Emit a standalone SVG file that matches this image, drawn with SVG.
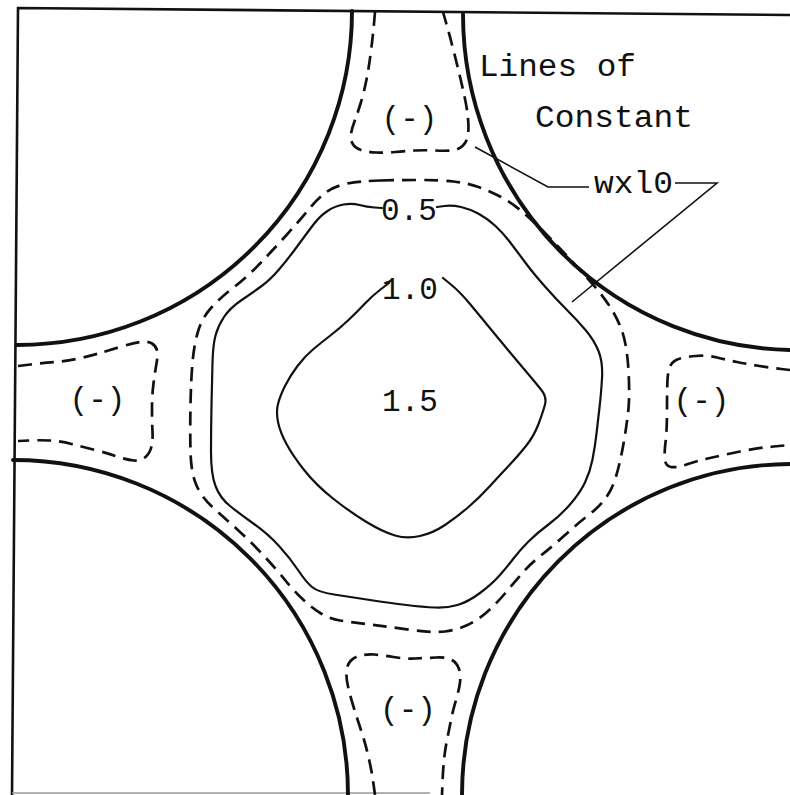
<svg xmlns="http://www.w3.org/2000/svg" width="790" height="795" viewBox="0 0 790 795">
<style>
.thick{fill:none;stroke:#111;stroke-width:3.9;stroke-linecap:round}
.frame{fill:none;stroke:#111;stroke-width:2.6}
.solid{fill:none;stroke:#111;stroke-width:2.2;stroke-linejoin:round;stroke-linecap:round}
.dash{fill:none;stroke:#111;stroke-width:2.7;stroke-dasharray:14 8;stroke-linejoin:round}
.lead{fill:none;stroke:#111;stroke-width:1.6}
text{font-family:"Liberation Mono","Courier New",monospace;font-size:31px;fill:#111}
.m{text-anchor:middle}
</style>
<rect width="790" height="795" fill="#fff"/>
<g id="frame">
<path class="frame" d="M790,15 L18,8 L12,795"/>
<path d="M12,793 L430,793" stroke="#999" stroke-width="1.5" fill="none"/>
</g>
<g id="cylinders">
<path class="thick" d="M352,11 A335,334 0 0 1 17,345"/>
<path class="thick" d="M463,14 A333,336 0 0 0 796,350"/>
<path class="thick" d="M13,460 A335,335 0 0 1 348,795"/>
<path class="thick" d="M790,464 A330,331 0 0 0 462,795"/>
</g>
<g id="contours">
<path id="outer-dashed" class="dash" d="M380,180.5 Q400,180 420,180 Q440,180 453.5,181.5 Q467,183 478.5,187 Q490,191 501,197 Q512,203 522,211.5 Q532,220 543.5,231.5 Q555,243 566.5,255.5 Q578,268 589,280 Q600,292 608.5,304.5 Q617,317 622,331 Q627,345 628.5,371 Q630,397 628,413.5 Q626,430 623,446.5 Q620,463 616,476.5 Q612,490 605,499 Q598,508 587.5,516 Q577,524 565,535 Q553,546 541.5,555 Q530,564 521.5,574 Q513,584 504.5,594 Q496,604 487,612 Q478,620 467.5,625 Q457,630 445,631.5 Q433,633 411.5,630 Q390,627 370,624.5 Q350,622 340,620.5 Q330,619 321,613.5 Q312,608 302.5,599 Q293,590 285,580 Q277,570 265,557 Q253,544 240,532 Q227,520 214.5,509 Q202,498 196.5,485.5 Q191,473 190.5,451.5 Q190,430 190.5,405 Q191,380 192.5,362.5 Q194,345 198,331.5 Q202,318 211,308 Q220,298 233.5,287.5 Q247,277 260,263.5 Q273,250 286.5,235 Q300,220 309,209 Q318,198 326.5,192 Q335,186 347.5,183.5 Q360,181 380,180.5 Z"/>
<path id="c05" class="solid" d="M437,207 L444.5,206 Q452,205 461,207 Q470,209 479,214 Q488,219 495.5,226 Q503,233 509.5,241.5 Q516,250 524.5,261.5 Q533,273 544.5,286 Q556,299 566.5,309.5 Q577,320 585.5,330 Q594,340 598.5,351 Q603,362 602,378.5 Q601,395 599.5,407.5 Q598,420 596.5,433.5 Q595,447 592.5,459.5 Q590,472 585,482.5 Q580,493 570,504.5 Q560,516 548.5,524.5 Q537,533 528.5,541.5 Q520,550 513.5,558.5 Q507,567 499.5,575.5 Q492,584 480,593 Q468,602 457.5,605 Q447,608 435,607.5 Q423,607 406.5,605 Q390,603 370,600 Q350,597 334,594.5 Q318,592 312,587 Q306,582 298,570 Q290,558 279,546 Q268,534 254,524 Q240,514 230,506 Q220,498 215.5,486 Q211,474 211,452 Q211,430 211.5,405 Q212,380 212.5,362.5 Q213,345 215.5,335.5 Q218,326 224,317 Q230,308 241,300.5 Q252,293 261,286.5 Q270,280 279,269.5 Q288,259 297.5,246 Q307,233 313.5,224.5 Q320,216 327.5,211 Q335,206 343.5,204.5 Q352,203 359.5,205 Q367,207 374.5,207.5 L382,208"/>
<path id="c10" class="solid" d="M389,283 L380.5,289.5 Q372,296 364.5,304 Q357,312 348.5,320 Q340,328 331,335 Q322,342 313.5,349 Q305,356 297.5,366 Q290,376 285,386 Q280,396 278,404 Q276,412 278,422 Q280,432 286.5,444 Q293,456 304.5,470.5 Q316,485 333,498.5 Q350,512 366.5,522 Q383,532 395,535.5 Q407,539 420,536 Q433,533 445,525 Q457,517 468.5,507 Q480,497 490,486 Q500,475 509,465.5 Q518,456 526,446 Q534,436 538.5,424 Q543,412 545,404.5 Q547,397 541,389.5 Q535,382 526.5,372 Q518,362 508,350 Q498,338 489,327 Q480,316 470,304 Q460,292 451.5,285 L443,278"/>
<path id="neg-top" class="dash" d="M375,12 L374,23.5 Q373,35 371,51 Q369,67 366.5,79.5 Q364,92 361,102 Q358,112 355,120 Q352,128 351,133.5 Q350,139 352.5,143.5 Q355,148 361,150 Q367,152 376,152.5 Q385,153 395,152 Q405,151 415,150.5 Q425,150 435,150.5 Q445,151 451.5,150.5 Q458,150 462.5,146 Q467,142 468,135 Q469,128 468,118 Q467,108 464.5,96.5 Q462,85 459,72.5 Q456,60 452.5,46.5 Q449,33 446,22.5 L443,12"/>
<path id="neg-left" class="dash" d="M18,366 L30.5,364.5 Q43,363 55,362 Q67,361 78.5,358.5 Q90,356 100,353 Q110,350 121.5,346.5 Q133,343 140.5,342 Q148,341 152,343.5 Q156,346 157,350.5 Q158,355 156.5,363.5 Q155,372 153.5,383.5 Q152,395 152,409 Q152,423 152.5,431.5 Q153,440 151.5,446.5 Q150,453 145.5,457 Q141,461 134,460.5 Q127,460 117,456.5 Q107,453 95,450 Q83,447 71.5,444 Q60,441 50,440.5 Q40,440 29,440.5 L18,441"/>
<path id="neg-right" class="dash" d="M790,370 L781,369 Q772,368 759.5,366 Q747,364 737,362 Q727,360 717,357.5 Q707,355 695.5,356 Q684,357 678.5,359 Q673,361 670.5,365.5 Q668,370 667.5,380 Q667,390 667,410 Q667,430 665.5,442.5 Q664,455 665,460.5 Q666,466 671,467 Q676,468 686.5,464.5 Q697,461 710,458 Q723,455 740,451.5 Q757,448 773.5,446.5 L790,445"/>
<path id="neg-bottom" class="dash" d="M375,795 L373.5,784 Q372,773 369.5,761.5 Q367,750 364.5,741.5 Q362,733 359,724 Q356,715 353,705 Q350,695 348,686.5 Q346,678 346.5,671.5 Q347,665 350.5,661 Q354,657 360.5,655.5 Q367,654 374.5,654.5 Q382,655 393.5,657 Q405,659 415,658.5 Q425,658 436,657.5 Q447,657 452,660 Q457,663 459,669 Q461,675 460,682.5 Q459,690 456,700 Q453,710 451,720 Q449,730 447,740 Q445,750 444,760 Q443,770 442.5,782.5 L442,795"/>
</g>
<g id="connectors">
<path class="lead" d="M475,147 L548,187 L589,187"/>
<path class="lead" d="M675,183 L717,183 L572,302"/>
</g>
<g id="labels">
<text x="479" y="76" textLength="157" lengthAdjust="spacingAndGlyphs">Lines of</text>
<text x="535" y="127" textLength="158" lengthAdjust="spacingAndGlyphs">Constant</text>
<text x="594" y="193" textLength="79" lengthAdjust="spacingAndGlyphs">wxl0</text>
<text class="m" x="409" y="220">0.5</text>
<text class="m" x="410" y="299">1.0</text>
<text class="m" x="410" y="411">1.5</text>
<text class="m" x="409.5" y="128">(-)</text>
<text class="m" x="97.5" y="409">(-)</text>
<text class="m" x="701.5" y="410">(-)</text>
<text class="m" x="408" y="719">(-)</text>
</g>
</svg>
